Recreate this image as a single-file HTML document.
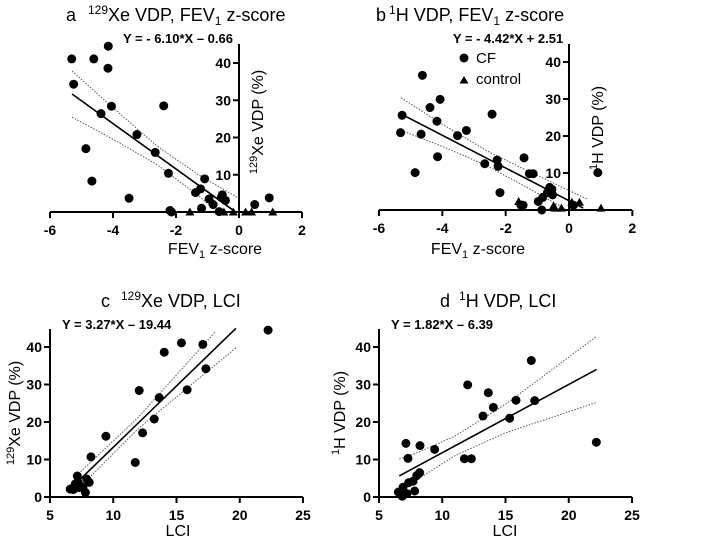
<!DOCTYPE html>
<html><head><meta charset="utf-8"><style>
html,body{margin:0;padding:0;background:#fff;}
svg{display:block;font-family:"Liberation Sans",Arial,sans-serif;}
</style></head><body>
<svg id="fig" width="709" height="542" viewBox="0 0 709 542" xmlns="http://www.w3.org/2000/svg">
<g><text x="66" y="21" font-size="18">a</text><text x="88" y="21" font-size="18"><tspan font-size="12" dy="-7">129</tspan><tspan dy="7">Xe VDP, FEV</tspan><tspan font-size="12" dy="4">1</tspan><tspan dy="-4"> z-score</tspan></text></g>
<g><text x="376" y="21" font-size="18">b</text><text x="389" y="21" font-size="18"><tspan font-size="12" dy="-7">1</tspan><tspan dy="7">H VDP, FEV</tspan><tspan font-size="12" dy="4">1</tspan><tspan dy="-4"> z-score</tspan></text></g>
<g><text x="101" y="307" font-size="18">c</text><text x="121" y="307" font-size="18"><tspan font-size="12" dy="-7">129</tspan><tspan dy="7">Xe VDP, LCI</tspan></text></g>
<g><text x="440" y="307" font-size="18">d</text><text x="459" y="307" font-size="18"><tspan font-size="12" dy="-7">1</tspan><tspan dy="7">H VDP, LCI</tspan></text></g>
<text x="178" y="43" font-size="13" font-weight="bold" text-anchor="middle">Y = - 6.10*X – 0.66</text>
<text x="508" y="43" font-size="13" font-weight="bold" text-anchor="middle">Y = - 4.42*X + 2.51</text>
<text x="62" y="329" font-size="13" font-weight="bold">Y = 3.27*X – 19.44</text>
<text x="391" y="329" font-size="13" font-weight="bold">Y = 1.82*X – 6.39</text>
<g>
<circle cx="464" cy="58" r="4.5" fill="#000"/>
<text x="476" y="63" font-size="15">CF</text>
<polygon points="464,76 468.5,83.5 459.5,83.5" fill="#000"/>
<text x="476" y="84" font-size="15">control</text>
</g>
<text x="215" y="254" font-size="16" text-anchor="middle">FEV<tspan font-size="11" dy="4">1</tspan><tspan dy="-4"> z-score</tspan></text>
<text x="478" y="254" font-size="16" text-anchor="middle">FEV<tspan font-size="11" dy="4">1</tspan><tspan dy="-4"> z-score</tspan></text>
<text x="178" y="536" font-size="16" text-anchor="middle">LCI</text>
<text x="505" y="536" font-size="16" text-anchor="middle">LCI</text>
<text transform="translate(263,122) rotate(-90)" font-size="16" text-anchor="middle"><tspan font-size="11" dy="-6">129</tspan><tspan dy="6">Xe VDP (%)</tspan></text>
<text transform="translate(603,128) rotate(-90)" font-size="16" text-anchor="middle"><tspan font-size="11" dy="-6">1</tspan><tspan dy="6">H VDP (%)</tspan></text>
<text transform="translate(20,413) rotate(-90)" font-size="16" text-anchor="middle"><tspan font-size="11" dy="-6">129</tspan><tspan dy="6">Xe VDP (%)</tspan></text>
<text transform="translate(345,413) rotate(-90)" font-size="16" text-anchor="middle"><tspan font-size="11" dy="-6">1</tspan><tspan dy="6">H VDP (%)</tspan></text>
</svg>
<script>
// Panel a data
const aCfX=[-5.31,-5.25,-4.61,-4.15,-4.16,-4.05,-4.38,-4.86,-4.67,-3.49,-3.24,-2.66,-2.39,-2.24,-2.19,-2.14,-1.38,-1.22,-1.09,-1.19,-0.95,-0.82,-0.63,-0.53,-0.43,-0.56,0.5,0.96];
const aCfY=[41.1,34.3,41.1,44.5,38.6,28.4,26.4,17.0,8.3,3.7,20.8,16.0,28.5,10.4,0.4,0,5.2,6.2,8.9,1.0,3.5,2.0,0.1,4.6,3.1,3.9,2.0,3.8];
const aCtX=[-1.56,-0.48,-0.18,0.21,0.4,1.07];
const aCtY=[0,0,0,0,0,0];
const aFit=[-6.10,-0.66];
const aFitRange=[-5.3,-0.11];
const aBandX=[-5.3,-4,-2.6,-1.3,0];
const aBandHW=[6.2,4.2,2.5,2.8,4.3];
// Panel b data
const bCfX=[-5.27,-5.32,-4.63,-4.67,-4.86,-4.39,-4.07,-4.17,-4.15,-3.52,-3.24,-2.66,-2.43,-2.27,-2.24,-2.18,-1.42,-1.25,-1.13,-1.52,-1.45,-0.86,-0.97,-0.83,-0.68,-0.61,-0.54,-0.52,0.14,0.91];
const bCfY=[25.6,20.9,36.4,20.5,10.1,27.7,29.9,24.0,14.4,20.1,21.5,12.5,25.9,13.5,11.8,4.7,14.1,9.8,9.8,1.35,1.3,0,2.3,3.4,4.7,6.1,5.6,4.1,1.3,10.1];
const bCtX=[-1.59,-0.49,-0.44,-0.24,0.09,0.33,1.01];
const bCtY=[2.3,1.1,0.5,0.5,2.1,2.1,0.5];
const bFit=[-4.42,2.51];
const bFitRange=[-5.3,0.45];
const bBandX=[-5.3,-4,-2.6,-1.3,0.6];
const bBandHW=[4.4,3.0,2.0,2.3,3.0];
// Panel c data
const cX=[22.24,15.39,17.08,14.03,17.32,12.05,13.63,15.84,13.24,12.32,9.42,11.74,8.24,7.16,6.6,6.85,7.0,7.2,7.4,7.6,7.9,8.1,7.8,6.7,7.3];
const cY=[44.5,41.1,40.7,38.6,34.2,28.4,26.5,28.6,20.8,17.1,16.2,9.2,10.7,5.6,2.1,2.0,3.5,4.0,3.0,2.6,4.8,3.9,1.2,2.2,2.5];
const cFit=[3.27,-19.44];
const cFitRange=[7.1,19.7];
const cBandX=[6.9,12,19.7];
const cBandHW=[2.0,1.5,5.2];
// Panel d data
const dX=[17.04,12.01,13.64,14.04,15.83,17.31,13.22,15.33,22.18,11.75,12.3,9.4,8.24,7.13,7.29,8.21,7.98,7.34,7.69,7.82,6.9,6.53,6.84,7.2];
const dY=[36.4,29.9,27.8,23.9,25.8,25.7,21.6,21.0,14.6,10.2,10.2,12.7,13.7,14.3,10.3,6.5,5.7,3.8,4.2,1.6,2.6,1.3,0.2,0.9];
const dFit=[1.82,-6.39];
const dFitRange=[6.6,22.2];
const dBandX=[6.6,8,11,15,22.2];
const dBandHW=[4.5,3.6,2.6,3.8,8.8];
// Ticks
const fevTicks=[-6,-4,-2,0,2];
const lciTicks=[5,10,15,20,25];
const vdpTicksAB=[10,20,30,40];
const vdpTicksCD=[0,10,20,30,40];

const NS='http://www.w3.org/2000/svg';
const svg=document.getElementById('fig');
function mk(tag,attrs,parent){const e=document.createElementNS(NS,tag);for(const k in attrs)e.setAttribute(k,attrs[k]);(parent||svg).appendChild(e);return e;}
function lin(d0,d1,p0,p1){return v=>p0+(v-d0)*(p1-p0)/(d1-d0);}
function interp(xs,ys,x){if(x<=xs[0])return ys[0];for(let i=1;i<xs.length;i++){if(x<=xs[i]){const t=(x-xs[i-1])/(xs[i]-xs[i-1]);return ys[i-1]+t*(ys[i]-ys[i-1]);}}return ys[ys.length-1];}

function panel(cfg){
  const g=mk('g',{});
  
  
  const sx=cfg.sx, sy=cfg.sy;
  const xa=mk('line',{x1:cfg.xAxis[0],x2:cfg.xAxis[1],y1:sy(0),y2:sy(0),stroke:'#000','stroke-width':2},g);
  
  
  const ya=mk('line',{x1:cfg.yAxisX,x2:cfg.yAxisX,y1:cfg.yTop,y2:sy(0),stroke:'#000','stroke-width':2},g);
  
  
  cfg.xTicks.forEach(t=>{
    const px=sx(t);
    if(px<=708){mk('line',{x1:px,x2:px,y1:sy(0),y2:sy(0)+6,stroke:'#000','stroke-width':2},g);}
    const tx=mk('text',{x:px,y:sy(0)+23,'font-size':14,'font-weight':'bold','text-anchor':'middle'},g);
    tx.textContent=t;
    
    
  });
  cfg.yTicks.forEach(t=>{
    mk('line',{x1:cfg.yAxisX-6,x2:cfg.yAxisX,y1:sy(t),y2:sy(t),stroke:'#000','stroke-width':2},g);
    const ty=mk('text',{x:cfg.yAxisX-8,y:sy(t)+5,'font-size':14,'font-weight':'bold','text-anchor':'end'},g);
    ty.textContent=t;
    
    
  });
  const [m,b]=cfg.fit;
  const bx0=cfg.bandX[0], bx1=cfg.bandX[cfg.bandX.length-1];
  ['upper','lower'].forEach(side=>{
    let pts=[];
    for(let i=0;i<=40;i++){
      const x=bx0+(bx1-bx0)*i/40;
      const hw=interp(cfg.bandX,cfg.bandHW,x);
      const y=m*x+b+(side==='upper'?hw:-hw);
      if(y<0||y>45)continue;
      pts.push(sx(x).toFixed(1)+','+sy(y).toFixed(1));
    }
    const pl=mk('polyline',{points:pts.join(' '),fill:'none',stroke:'#555','stroke-width':1,'stroke-dasharray':'1.5,1.5'},g);
    
    
  });
  const fl=mk('line',{x1:sx(cfg.fitRange[0]),y1:sy(m*cfg.fitRange[0]+b),x2:sx(cfg.fitRange[1]),y2:sy(m*cfg.fitRange[1]+b),stroke:'#000','stroke-width':1.6},g);
  
  
  cfg.cfX.forEach((x,i)=>{
    const c=mk('circle',{cx:sx(x),cy:sy(cfg.cfY[i]),r:4.5,fill:'#000'},g);
    
    
  });
  (cfg.ctX||[]).forEach((x,i)=>{
    const px=sx(x),py=sy(cfg.ctY[i]);
    const p=mk('polygon',{points:`${px},${py-4.5} ${px+4.5},${py+3.5} ${px-4.5},${py+3.5}`,fill:'#000'},g);
    
    
  });
}
panel({name:'panel-a',sx:lin(-6,0,50,239),sy:lin(0,40,212,63),xAxis:[50,302],yAxisX:239,yTop:44,xTicks:fevTicks,yTicks:vdpTicksAB,
  cfX:aCfX,cfY:aCfY,ctX:aCtX,ctY:aCtY,fit:aFit,fitRange:aFitRange,bandX:aBandX,bandHW:aBandHW});
panel({name:'panel-b',sx:lin(-6,0,379,569),sy:lin(0,40,210,62),xAxis:[379,632],yAxisX:569,yTop:44,xTicks:fevTicks,yTicks:vdpTicksAB,
  cfX:bCfX,cfY:bCfY,ctX:bCtX,ctY:bCtY,fit:bFit,fitRange:bFitRange,bandX:bBandX,bandHW:bBandHW});
panel({name:'panel-c',sx:lin(5,25,50,303),sy:lin(0,40,497,347),xAxis:[50,303],yAxisX:50,yTop:329,xTicks:lciTicks,yTicks:vdpTicksCD,
  cfX:cX,cfY:cY,fit:cFit,fitRange:cFitRange,bandX:cBandX,bandHW:cBandHW});
panel({name:'panel-d',sx:lin(5,25,379,632),sy:lin(0,40,497,347),xAxis:[379,632],yAxisX:379,yTop:329,xTicks:lciTicks,yTicks:vdpTicksCD,
  cfX:dX,cfY:dY,fit:dFit,fitRange:dFitRange,bandX:dBandX,bandHW:dBandHW});
</script>
</body></html>
